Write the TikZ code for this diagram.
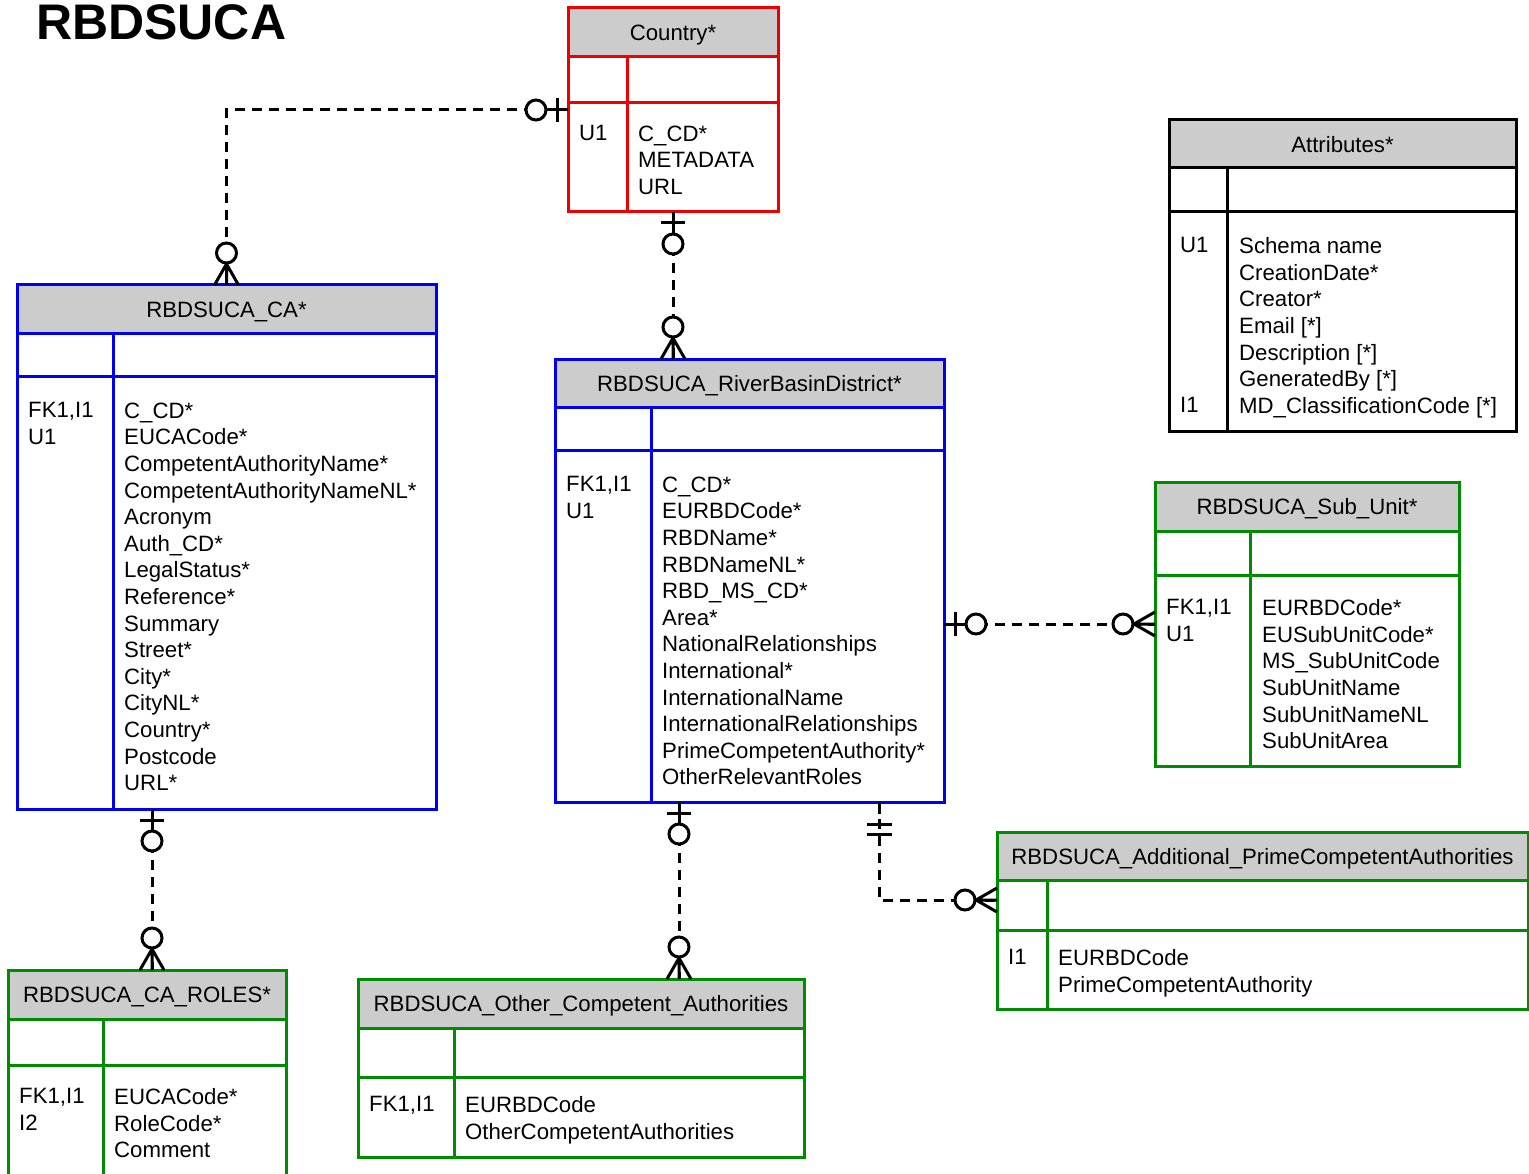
\documentclass[tikz,border=0pt]{standalone}
\usepackage{fontspec}
\setmainfont{Liberation Sans}
\usetikzlibrary{calc}
\definecolor{headgray}{RGB}{204,204,204}
\definecolor{erred}{RGB}{238,0,0}
\definecolor{erblue}{RGB}{0,0,240}
\definecolor{ergreen}{RGB}{0,140,0}
\begin{document}
\begin{tikzpicture}
[
    x=1pt, y=-1pt,
    every node/.style={font=\fontsize{22.2}{26.6}\selectfont},
    box/.style={draw, line width=3pt, inner sep=0pt, outer sep=0pt, anchor=north west},
    head/.style={box, fill=headgray, text depth=0pt},
    txt/.style={inner sep=0pt, anchor=north west, align=left},
    rel/.style={line width=3pt, dash pattern=on 10pt off 7pt},
    mk/.style={line width=3pt},
    ring/.style={mk, fill=white},
    pics/crow/.style={code={
        \draw[mk] (0,-12) -- (21,0) -- (0,12) (0,0) -- (22,0);
        \draw[ring] (32,0) circle (10pt);}},
    pics/zeroone/.style={code={
        \draw[mk] (0,0) -- (22,0) (11,-12) -- (11,12);
        \draw[ring] (32,0) circle (10pt);}},
    pics/justone/.style={code={
        \draw[mk] (0,0) -- (12,0) (22,-12.5) -- (22,12.5) (32,-12.5) -- (32,12.5);}},
]
\useasboundingbox (0,0) rectangle (1529,1174);

\node[anchor=base west, inner sep=0pt, font=\fontsize{50}{50}\selectfont\bfseries] (title) at (36,40) {RBDSUCA};

% Country*
\node[head, draw=erred, minimum width=210, minimum height=49] (cty) at (568,8) {Country*};
\node[box, draw=erred, minimum width=210, minimum height=46] (cty-k) at (cty.south west) {};
\node[box, draw=erred, minimum width=210, minimum height=109] (cty-b) at (cty-k.south west) {};
\draw[erred, line width=3pt] ($(cty-k.north west)+(59,0)$) -- ($(cty-b.south west)+(59,0)$);
\node[txt] (cty-keys) at (579,125.5) {U1};
\node[txt] (cty-attr) at (638,125.5) {C\_CD*\\METADATA\\URL};

% Attributes*
\node[head, minimum width=347, minimum height=48] (att) at (1169,120) {Attributes*};
\node[box, minimum width=347, minimum height=44] (att-k) at (att.south west) {};
\node[box, minimum width=347, minimum height=219] (att-b) at (att-k.south west) {};
\draw[line width=3pt] ($(att-k.north west)+(58,0)$) -- ($(att-b.south west)+(58,0)$);
\node[txt] (att-key1) at (1180,237.5) {U1};
\node[txt] (att-key2) at (1180,397.5) {I1};
\node[txt] (att-attr) at (1239,237.5) {Schema name\\CreationDate*\\Creator*\\Email [*]\\Description [*]\\GeneratedBy [*]\\MD\_ClassificationCode [*]};

% RBDSUCA_CA*
\node[head, draw=erblue, minimum width=419, minimum height=49] (ca) at (17,285) {RBDSUCA\_CA*};
\node[box, draw=erblue, minimum width=419, minimum height=42] (ca-k) at (ca.south west) {};
\node[box, draw=erblue, minimum width=419, minimum height=433] (ca-b) at (ca-k.south west) {};
\draw[erblue, line width=3pt] ($(ca-k.north west)+(96,0)$) -- ($(ca-b.south west)+(96,0)$);
\node[txt] (ca-keys) at (28,402.5) {FK1,I1\\U1};
\node[txt] (ca-attr) at (124,402.5) {C\_CD*\\EUCACode*\\CompetentAuthorityName*\\CompetentAuthorityNameNL*\\Acronym\\Auth\_CD*\\LegalStatus*\\Reference*\\Summary\\Street*\\City*\\CityNL*\\Country*\\Postcode\\URL*};

% RBDSUCA_RiverBasinDistrict*
\node[head, draw=erblue, minimum width=389, minimum height=48] (rbd) at (555,359) {RBDSUCA\_RiverBasinDistrict*};
\node[box, draw=erblue, minimum width=389, minimum height=43] (rbd-k) at (rbd.south west) {};
\node[box, draw=erblue, minimum width=389, minimum height=352] (rbd-b) at (rbd-k.south west) {};
\draw[erblue, line width=3pt] ($(rbd-k.north west)+(96,0)$) -- ($(rbd-b.south west)+(96,0)$);
\node[txt] (rbd-keys) at (566,476.5) {FK1,I1\\U1};
\node[txt] (rbd-attr) at (662,476.5) {C\_CD*\\EURBDCode*\\RBDName*\\RBDNameNL*\\RBD\_MS\_CD*\\Area*\\NationalRelationships\\International*\\InternationalName\\InternationalRelationships\\PrimeCompetentAuthority*\\OtherRelevantRoles};

% RBDSUCA_Sub_Unit*
\node[head, draw=ergreen, minimum width=304, minimum height=49] (su) at (1155,482) {RBDSUCA\_Sub\_Unit*};
\node[box, draw=ergreen, minimum width=304, minimum height=44] (su-k) at (su.south west) {};
\node[box, draw=ergreen, minimum width=304, minimum height=191] (su-b) at (su-k.south west) {};
\draw[ergreen, line width=3pt] ($(su-k.north west)+(95,0)$) -- ($(su-b.south west)+(95,0)$);
\node[txt] (su-keys) at (1166,599.5) {FK1,I1\\U1};
\node[txt] (su-attr) at (1262,599.5) {EURBDCode*\\EUSubUnitCode*\\MS\_SubUnitCode\\SubUnitName\\SubUnitNameNL\\SubUnitArea};

% RBDSUCA_Additional_PrimeCompetentAuthorities
\node[head, draw=ergreen, minimum width=531, minimum height=48] (ad) at (997,832) {RBDSUCA\_Additional\_PrimeCompetentAuthorities};
\node[box, draw=ergreen, minimum width=531, minimum height=50] (ad-k) at (ad.south west) {};
\node[box, draw=ergreen, minimum width=531, minimum height=79] (ad-b) at (ad-k.south west) {};
\draw[ergreen, line width=3pt] ($(ad-k.north west)+(50,0)$) -- ($(ad-b.south west)+(50,0)$);
\node[txt] (ad-keys) at (1008,949.5) {I1};
\node[txt] (ad-attr) at (1058,949.5) {EURBDCode\\PrimeCompetentAuthority};

% RBDSUCA_CA_ROLES*
\node[head, draw=ergreen, minimum width=278, minimum height=49] (ro) at (8,970) {RBDSUCA\_CA\_ROLES*};
\node[box, draw=ergreen, minimum width=278, minimum height=46] (ro-k) at (ro.south west) {};
\node[box, draw=ergreen, minimum width=278, minimum height=120] (ro-b) at (ro-k.south west) {};
\draw[ergreen, line width=3pt] ($(ro-k.north west)+(95,0)$) -- ($(ro-b.south west)+(95,0)$);
\node[txt] (ro-keys) at (19,1088.5) {FK1,I1\\I2};
\node[txt] (ro-attr) at (114,1088.5) {EUCACode*\\RoleCode*\\Comment};

% RBDSUCA_Other_Competent_Authorities
\node[head, draw=ergreen, minimum width=446, minimum height=49] (oc) at (358,979) {RBDSUCA\_Other\_Competent\_Authorities};
\node[box, draw=ergreen, minimum width=446, minimum height=49] (oc-k) at (oc.south west) {};
\node[box, draw=ergreen, minimum width=446, minimum height=80] (oc-b) at (oc-k.south west) {};
\draw[ergreen, line width=3pt] ($(oc-k.north west)+(96,0)$) -- ($(oc-b.south west)+(96,0)$);
\node[txt] (oc-keys) at (369,1096.5) {FK1,I1};
\node[txt] (oc-attr) at (465,1096.5) {EURBDCode\\OtherCompetentAuthorities};

% relationships
\coordinate (c1) at ($(cty-b.north west)+(0,7)$);
\coordinate (c3) at ($(su-b.north west)+(0,49)$);
\coordinate (c4) at ($(rbd-b.south west)+(324,0)$);
\coordinate (c4e) at ($(ad-k.north west)+(0,20)$);
\coordinate (c5) at ($(ca-b.south west)+(135,0)$);
\coordinate (c6) at ($(rbd-b.south west)+(124,0)$);

\draw[rel] (c1) -| (ca.north);
\draw[rel] (cty-b.south) -- (cty-b.south |- rbd.north);
\draw[rel] (rbd-b.east |- c3) -- (c3);
\draw[rel] (c4) |- (c4e);
\draw[rel] (c5) -- (c5 |- ro.north);
\draw[rel] (c6) -- (c6 |- oc.north);

\pic[rotate=180] at (c1) {zeroone};
\pic[rotate=90] at (ca.north) {crow};
\pic[rotate=-90] at (cty-b.south) {zeroone};
\pic[rotate=90] at (cty-b.south |- rbd.north) {crow};
\pic at (rbd-b.east |- c3) {zeroone};
\pic[rotate=180] at (c3) {crow};
\pic[rotate=-90] at (c4) {justone};
\pic[rotate=180] at (c4e) {crow};
\pic[rotate=-90] at (c5) {zeroone};
\pic[rotate=90] at (c5 |- ro.north) {crow};
\pic[rotate=-90] at (c6) {zeroone};
\pic[rotate=90] at (c6 |- oc.north) {crow};
\end{tikzpicture}
\end{document}
